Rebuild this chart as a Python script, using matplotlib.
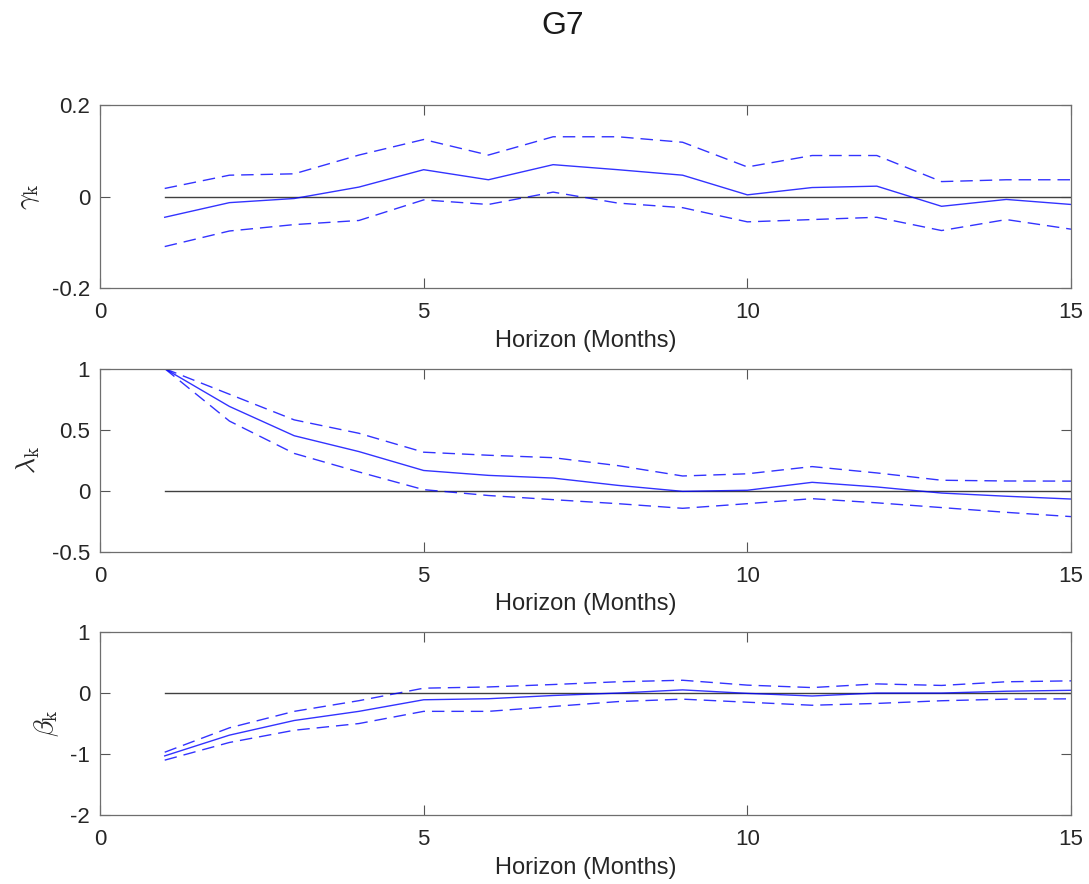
import numpy as np
import matplotlib
matplotlib.use("Agg")
import matplotlib.pyplot as plt

plt.rcParams['font.family'] = ['Liberation Sans', 'DejaVu Sans']
plt.rcParams['axes.unicode_minus'] = False
plt.rcParams['mathtext.fontset'] = 'cm'

horizon = np.arange(1, 16)

# gamma_k: point estimate with upper / lower bands
gamma_est = [-0.045, -0.013, -0.004, 0.021, 0.059, 0.037, 0.070, 0.059, 0.047,
             0.004, 0.020, 0.023, -0.021, -0.006, -0.017]
gamma_hi = [0.018, 0.047, 0.050, 0.091, 0.125, 0.091, 0.131, 0.131, 0.119,
            0.065, 0.090, 0.090, 0.033, 0.037, 0.037]
gamma_lo = [-0.109, -0.075, -0.061, -0.052, -0.007, -0.017, 0.010, -0.014, -0.024,
            -0.055, -0.050, -0.045, -0.074, -0.050, -0.071]

# lambda_k
lambda_est = [1.0, 0.69, 0.45, 0.32, 0.165, 0.125, 0.103, 0.043, -0.006,
              0.003, 0.068, 0.030, -0.020, -0.046, -0.069]
lambda_hi = [1.0, 0.79, 0.58, 0.47, 0.315, 0.29, 0.27, 0.205, 0.12,
             0.138, 0.197, 0.145, 0.085, 0.079, 0.078]
lambda_lo = [1.0, 0.57, 0.305, 0.153, 0.008, -0.04, -0.074, -0.107, -0.145,
             -0.107, -0.066, -0.10, -0.139, -0.178, -0.213]

# beta_k
beta_est = [-1.03, -0.69, -0.45, -0.30, -0.11, -0.093, -0.04, 0.0, 0.052,
            -0.005, -0.048, 0.0, 0.0, 0.03, 0.045]
beta_hi = [-0.97, -0.57, -0.30, -0.125, 0.08, 0.10, 0.14, 0.185, 0.21,
           0.13, 0.09, 0.15, 0.125, 0.185, 0.20]
beta_lo = [-1.10, -0.81, -0.61, -0.50, -0.30, -0.30, -0.22, -0.14, -0.10,
           -0.15, -0.20, -0.17, -0.126, -0.10, -0.095]

panels = [
    (r'$\gamma_{\rm k}$', gamma_est, gamma_hi, gamma_lo, (-0.2, 0.2), [-0.2, 0, 0.2]),
    (r'$\lambda_{\rm k}$', lambda_est, lambda_hi, lambda_lo, (-0.5, 1), [-0.5, 0, 0.5, 1]),
    (r'$\beta_{\rm k}$', beta_est, beta_hi, beta_lo, (-2, 1), [-2, -1, 0, 1]),
]
bottoms = [0.674, 0.376, 0.078]

fig = plt.figure(figsize=(10.89, 8.84), dpi=100)
fig.text(0.517, 0.987, 'G7', ha='center', va='top', fontsize=23, color='#1a1a1a')

for (lab, est, hi, lo, ylim, yt), b in zip(panels, bottoms):
    ax = fig.add_axes([0.0918, b, 0.8917, 0.207])
    ax.plot(horizon, np.zeros(len(horizon)), color='#404040', lw=1.0)
    ax.plot(horizon, est, color='blue', lw=1.0, alpha=0.8)
    ax.plot(horizon, hi, color='blue', lw=1.0, ls=(0, (9, 5)), alpha=0.8)
    ax.plot(horizon, lo, color='blue', lw=1.0, ls=(0, (9, 5)), alpha=0.8)
    ax.set_xlim(0, 15)
    ax.set_ylim(*ylim)
    ax.set_xticks([0, 5, 10, 15])
    ax.set_yticks(yt)
    ax.set_yticklabels([('%g' % v) for v in yt])
    ax.tick_params(direction='in', length=7, width=0.8, top=True, right=True,
                   labelsize=16, colors='#555555', labelcolor='#262626')
    ax.tick_params(axis='x', pad=10)
    ax.tick_params(axis='y', pad=7)
    for sp in ax.spines.values():
        sp.set_color('#6e6e6e')
        sp.set_linewidth(0.9)
    ax.set_xlabel('Horizon (Months)', fontsize=17, color='#262626', labelpad=5)
    ax.set_ylabel(lab, fontsize=20, color='#262626', labelpad=7)

fig.savefig('out.png', dpi=100)
